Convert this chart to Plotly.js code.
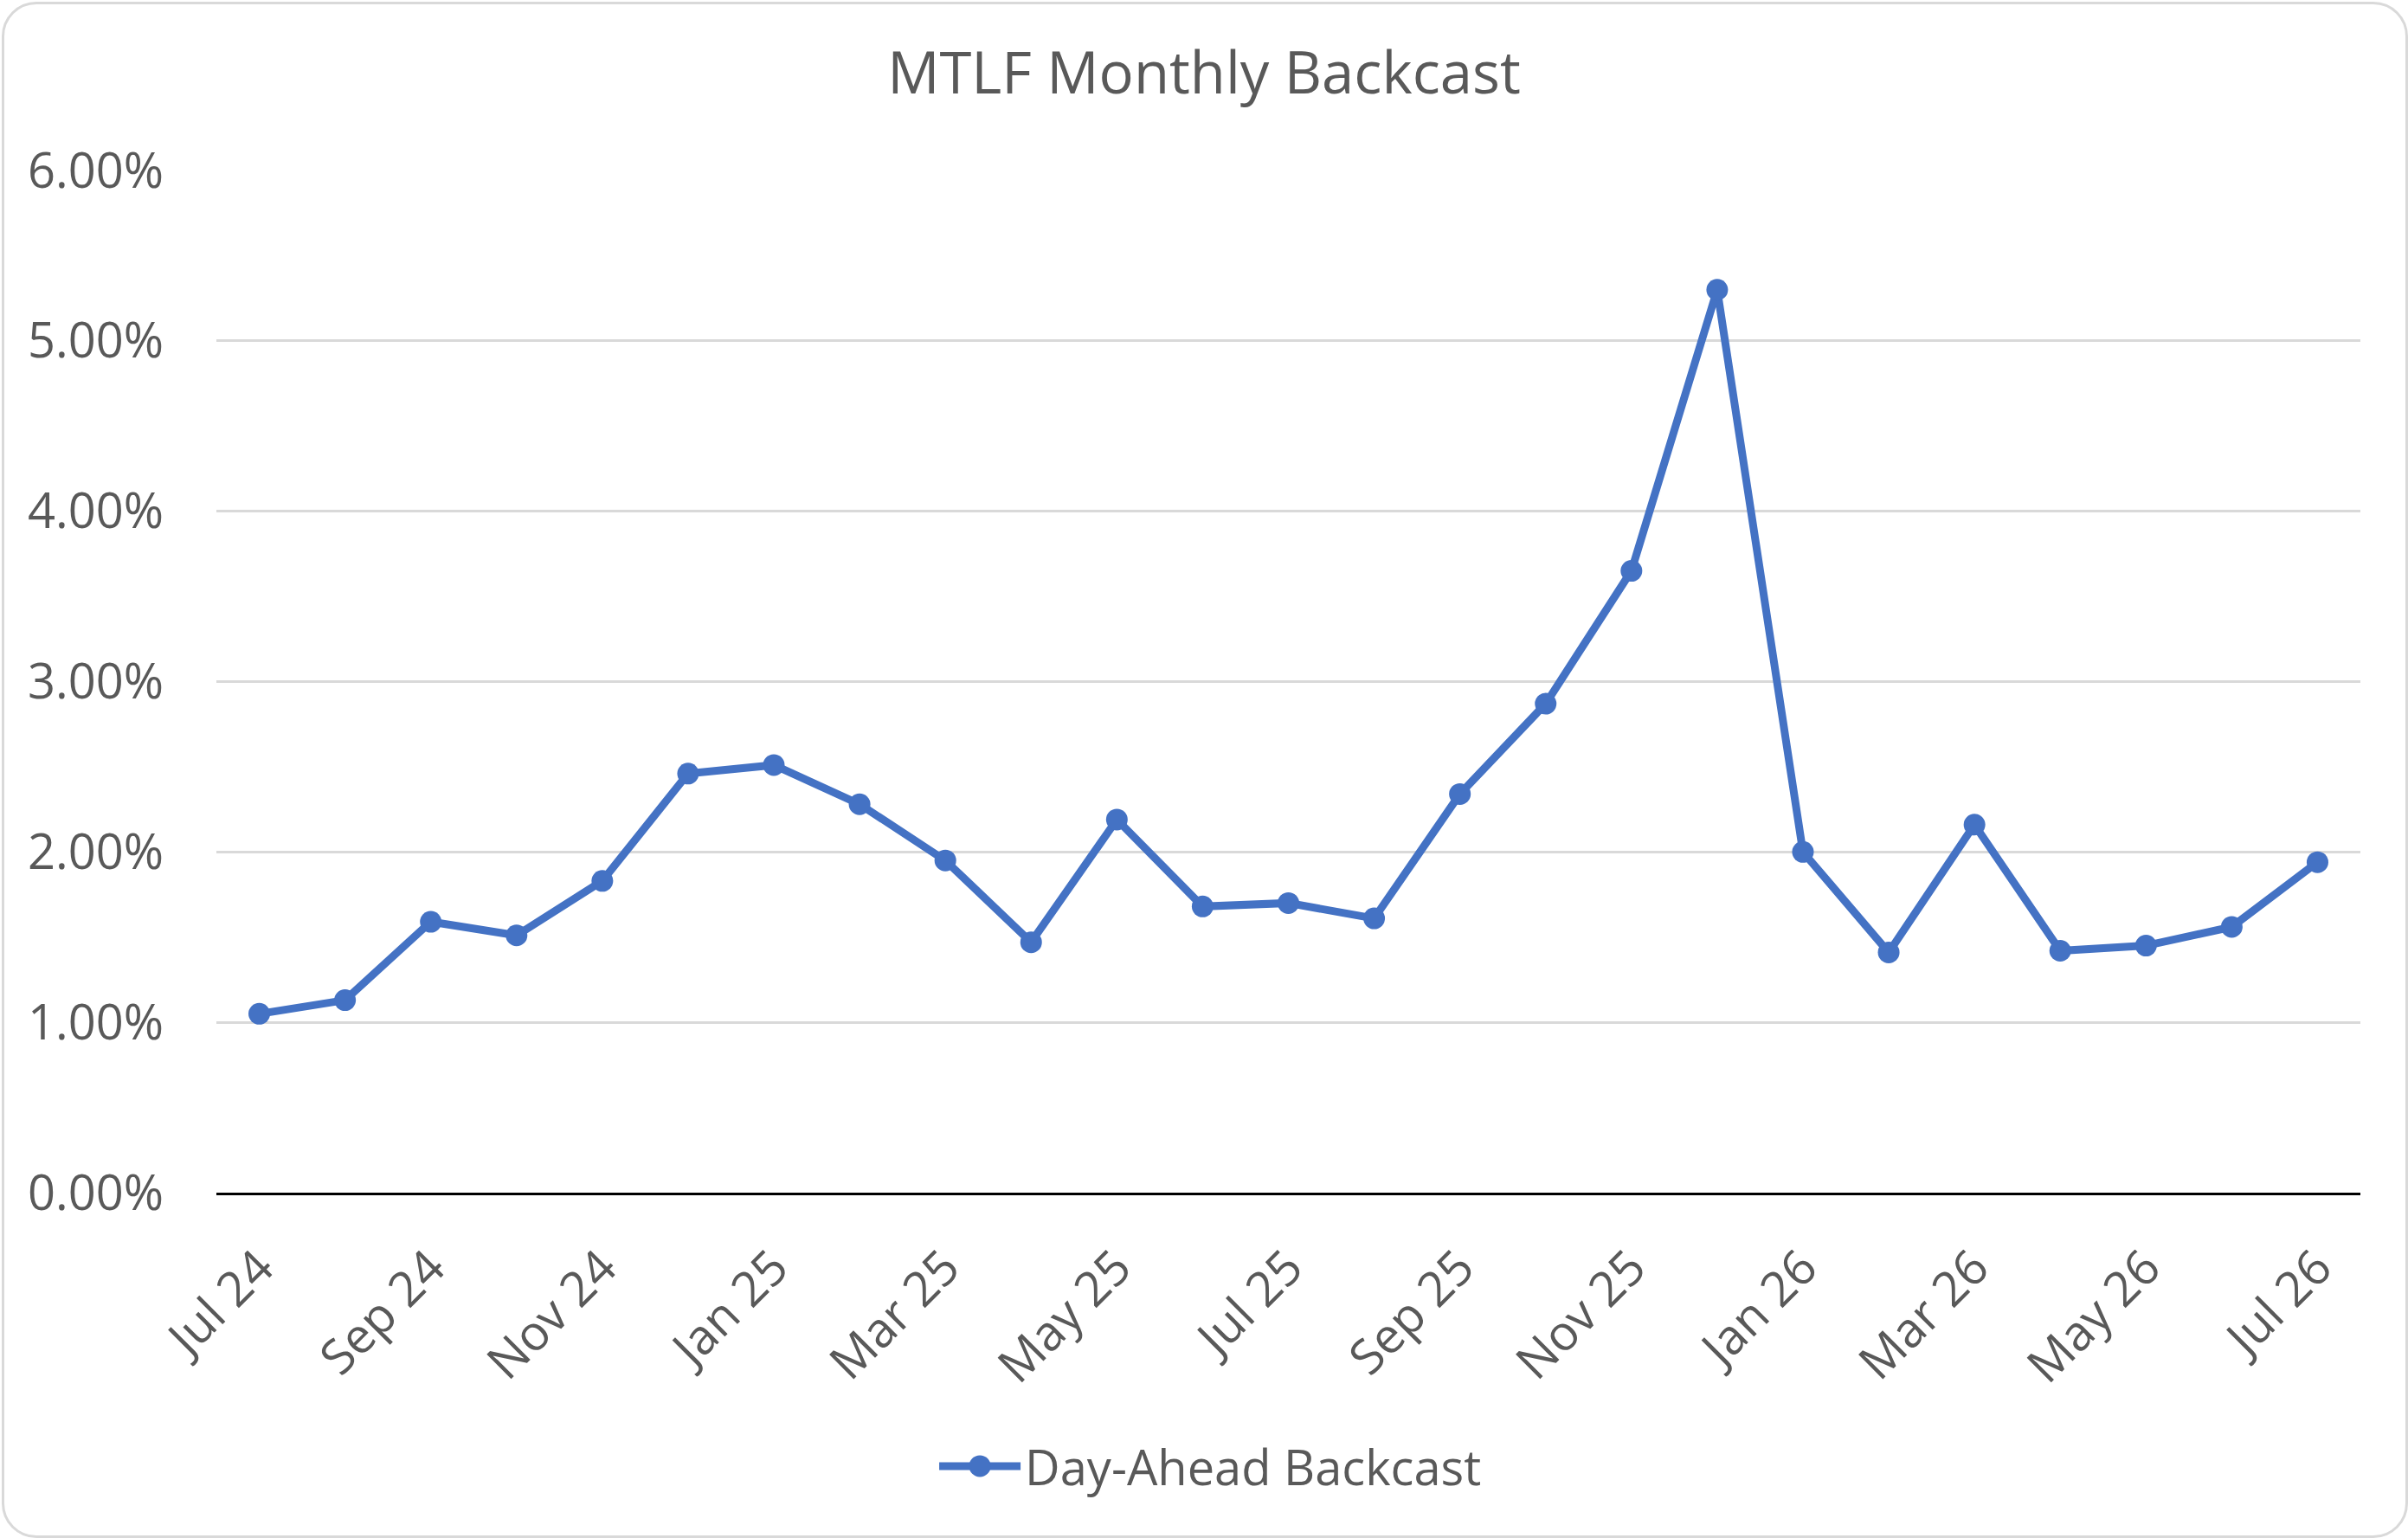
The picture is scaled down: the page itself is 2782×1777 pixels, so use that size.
<!DOCTYPE html>
<html>
<head>
<meta charset="utf-8">
<script src="https://cdn.plot.ly/plotly-3.0.1.min.js"></script>
<style>
  html, body { margin: 0; padding: 0; background: #ffffff; }
  #wrap { position: relative; width: 2782px; height: 1777px; }
  #chart { width: 2782px; height: 1777px; }
  #frame { position: absolute; left: 2px; top: 2px; width: 2774px; height: 1769px;
           border: 3px solid #d9d9d9; border-radius: 40px; pointer-events: none; }
</style>
</head>
<body>
<div id="wrap">
  <div id="chart"></div>
  <div id="frame"></div>
</div>
<script>
const chartTitle = 'MTLF Monthly Backcast';
const seriesName = 'Day-Ahead Backcast';
const months = ['Jul 24','Aug 24','Sep 24','Oct 24','Nov 24','Dec 24',
                'Jan 25','Feb 25','Mar 25','Apr 25','May 25','Jun 25',
                'Jul 25','Aug 25','Sep 25','Oct 25','Nov 25','Dec 25',
                'Jan 26','Feb 26','Mar 26','Apr 26','May 26','Jun 26','Jul 26'];
const backcast = [0.0105, 0.0113, 0.0159, 0.0151, 0.0183, 0.0246,
                  0.0251, 0.0228, 0.0195, 0.0147, 0.0219, 0.0168,
                  0.0170, 0.0161, 0.0234, 0.0287, 0.0365, 0.0530,
                  0.0200, 0.0141, 0.0216, 0.0142, 0.0145, 0.0156, 0.0194];
const tickLabels = ['Jul 24','Sep 24','Nov 24','Jan 25','Mar 25','May 25','Jul 25',
                    'Sep 25','Nov 25','Jan 26','Mar 26','May 26','Jul 26'];
const yTicks = [0, 0.01, 0.02, 0.03, 0.04, 0.05, 0.06];

const FONT = '"Open Sans", "Noto Sans", sans-serif';
const GREY = '#595959';
const BLUE = '#4472C4';

const trace = {
  type: 'scatter',
  mode: 'lines+markers',
  name: seriesName,
  x: months,
  y: backcast,
  line: { color: BLUE, width: 9 },
  marker: { color: BLUE, size: 25 },
  showlegend: true
};

const layout = {
  width: 2782,
  height: 1777,
  paper_bgcolor: '#ffffff',
  plot_bgcolor: '#ffffff',
  margin: { l: 250, r: 55, t: 197, b: 399 },
  font: { family: FONT, color: GREY, size: 56 },
  title: {
    text: chartTitle,
    font: { family: FONT, size: 67, color: GREY },
    x: 0.5, xanchor: 'center', xref: 'container',
    y: 1 - 85 / 1777, yanchor: 'middle', yref: 'container'
  },
  xaxis: {
    type: 'category',
    categoryorder: 'array',
    categoryarray: months,
    range: [-0.5, months.length - 0.5],
    tickmode: 'array',
    tickvals: tickLabels,
    ticktext: tickLabels,
    tickangle: -45,
    ticks: '',
    ticklabelstandoff: 28,
    tickfont: { family: FONT, size: 56, color: GREY },
    showgrid: false,
    showline: true,
    linecolor: '#000000',
    linewidth: 3,
    zeroline: false,
    fixedrange: true
  },
  yaxis: {
    range: [0, 0.06],
    tickmode: 'array',
    tickvals: yTicks,
    tickformat: '.2%',
    ticks: '',
    ticklabelstandoff: 60,
    tickfont: { family: FONT, size: 56, color: GREY },
    showgrid: true,
    gridcolor: '#d9d9d9',
    gridwidth: 3,
    zeroline: false,
    showline: false,
    fixedrange: true
  },
  legend: {
    orientation: 'h',
    x: 0.4637, xanchor: 'center',
    y: (1378 - 1694) / 1181, yanchor: 'middle',
    font: { family: FONT, size: 56, color: GREY },
    itemwidth: 94
  },
  showlegend: true
};

Plotly.newPlot('chart', [trace], layout, { displayModeBar: false, staticPlot: true }).then(function (gd) {
  // enlarge the legend symbol's marker to match the plotted markers
  const r = 12.5;
  gd.querySelectorAll('.legend .legendpoints path.scatterpts').forEach(function (p) {
    p.setAttribute('d', 'M' + r + ',0A' + r + ',' + r + ' 0 1,1 0,-' + r + 'A' + r + ',' + r + ' 0 0,1 ' + r + ',0Z');
  });
});
</script>
</body>
</html>
